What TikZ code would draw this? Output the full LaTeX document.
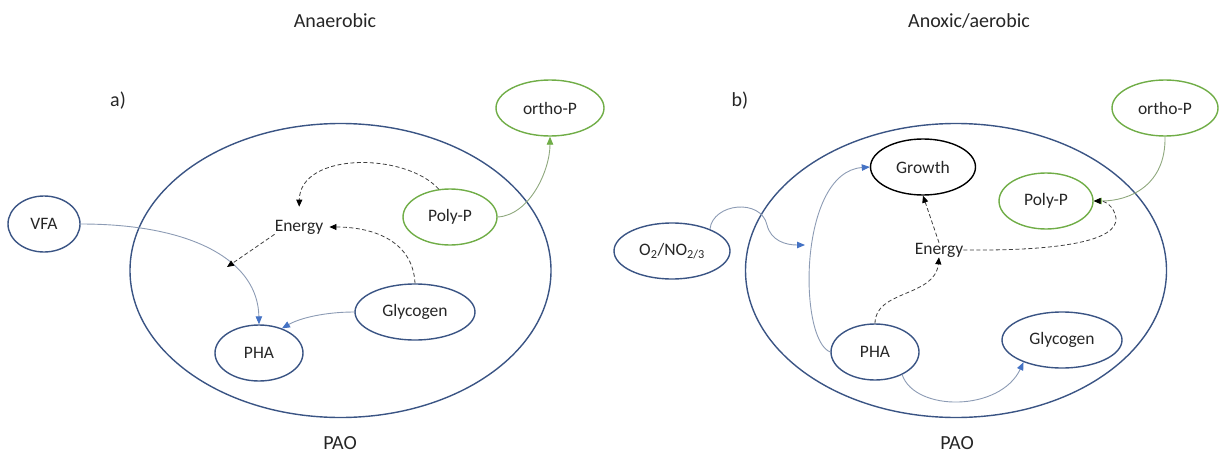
\documentclass[tikz,border=0pt]{standalone}
\usepackage{fontspec}
\setmainfont{Carlito}
\usetikzlibrary{arrows.meta,shapes.geometric}
\definecolor{cellblue}{HTML}{3A5484}
\definecolor{pgreen}{HTML}{70AD47}
\definecolor{tipblue}{HTML}{4472C4}
\definecolor{linkgray}{HTML}{8C9BB4}
\definecolor{greenlink}{HTML}{8FA87E}
\definecolor{dashgray}{HTML}{3F3F3F}
\begin{document}
\begin{tikzpicture}[x=1pt,y=-1pt,
  every node/.style={font=\fontsize{17.5}{21}\selectfont, text=black!85},
  label/.style={font=\fontsize{20}{24}\selectfont, inner sep=0},
  cell/.style={draw=cellblue, line width=1.4pt, ellipse, inner sep=0,
    minimum width=421, minimum height=294},
  pool/.style={draw=cellblue, line width=1.4pt, ellipse, inner sep=0,
    minimum height=56},
  greenpool/.style={pool, draw=pgreen},
  blackpool/.style={pool, draw=black},
  energy/.style={inner sep=0},
  flow/.style={draw=linkgray, line width=0.9pt,
    -{Triangle[length=8pt,width=6.5pt,color=tipblue]}},
  pflow/.style={draw=greenlink, line width=0.9pt,
    -{Triangle[length=8pt,width=6.5pt,color=pgreen]}},
  eflow/.style={draw=dashgray, line width=0.8pt, dash pattern=on 4pt off 2.5pt,
    -{Triangle[length=7pt,width=6pt,color=black]}}]
\useasboundingbox (0,0) rectangle (1220,455);

% ---------------- a) anaerobic phase ----------------
\node[label] (titleA) at (335,21) {Anaerobic};
\node[label] (tagA) at (118,101) {a)};
\node[cell] (cellA) at (340.5,270.5) {};
\node[label] (paoA) at (340,443) {PAO};

\node[pool, minimum width=72] (VFA) at (44,224) {VFA};
\node[pool, minimum width=88] (PHAa) at (259,353) {PHA};
\node[pool, minimum width=120] (GlyA) at (415,312) {Glycogen};
\node[greenpool, minimum width=94] (PolyA) at (450,217) {Poly-P};
\node[greenpool, minimum width=108] (OrthoA) at (550,108) {ortho-P};
\node[energy] (EnA) at (299,227) {Energy};

\draw[flow] (VFA.east) .. controls (195,224) and (258,262) .. (PHAa.north);
\draw[flow] (GlyA.west) .. controls (325,312) and (300,318) .. (PHAa.47);
\draw[pflow] (PolyA.east) .. controls (530,215) and (550,170) .. (OrthoA.south);
\draw[eflow, shorten >=13pt] (PolyA.112) .. controls (405,152) and (300,152) .. (EnA.north);
\draw[eflow, shorten >=6pt] (GlyA.north) .. controls (413,242) and (375,227) .. (EnA.east);
\draw[eflow] (EnA.south west) -- (227,267) coordinate (EnAout);

% ---------------- b) anoxic/aerobic phase ----------------
\node[label] (titleB) at (969,21) {Anoxic/aerobic};
\node[label] (tagB) at (740,101) {b)};
\node[cell] (cellB) at (956,270.5) {};
\node[label] (paoB) at (957,443) {PAO};

\node[pool, minimum width=116] (O2) at (672,251) {O\textsubscript{2}/NO\textsubscript{2/3}};
\node[blackpool, minimum width=105] (Growth) at (923,167) {Growth};
\node[greenpool, minimum width=94] (PolyB) at (1046,201) {Poly-P};
\node[greenpool, minimum width=106] (OrthoB) at (1165,108) {ortho-P};
\node[pool, minimum width=88] (PHAb) at (875,352) {PHA};
\node[pool, minimum width=120] (GlyB) at (1062,340) {Glycogen};
\node[energy] (EnB) at (939,250) {Energy};

\coordinate (O2tip) at (805,245);
\draw[flow] (O2.30) .. controls (713,203) and (761,198) .. (767,225)
  .. controls (771,241) and (786,245) .. (O2tip);
\draw[flow] (PHAb.west) .. controls (798,340) and (798,172) .. (Growth.west);
\draw[flow] (PHAb.-40) .. controls (915,412) and (1000,412) .. (GlyB.210);
\draw[pflow, draw=greenlink] (OrthoB.south) .. controls (1166,185) and (1130,201) .. (PolyB.east);
\draw[eflow] (PHAb.north) .. controls (875,290) and (935,297) .. (EnB.south);
\draw[eflow] (EnB.north) -- (Growth.south);
\draw[eflow] (EnB.east) .. controls (1060,251) and (1118,241) .. (1116,218)
  .. controls (1114,206) and (1105,201) .. (PolyB.east);
\end{tikzpicture}
\end{document}
